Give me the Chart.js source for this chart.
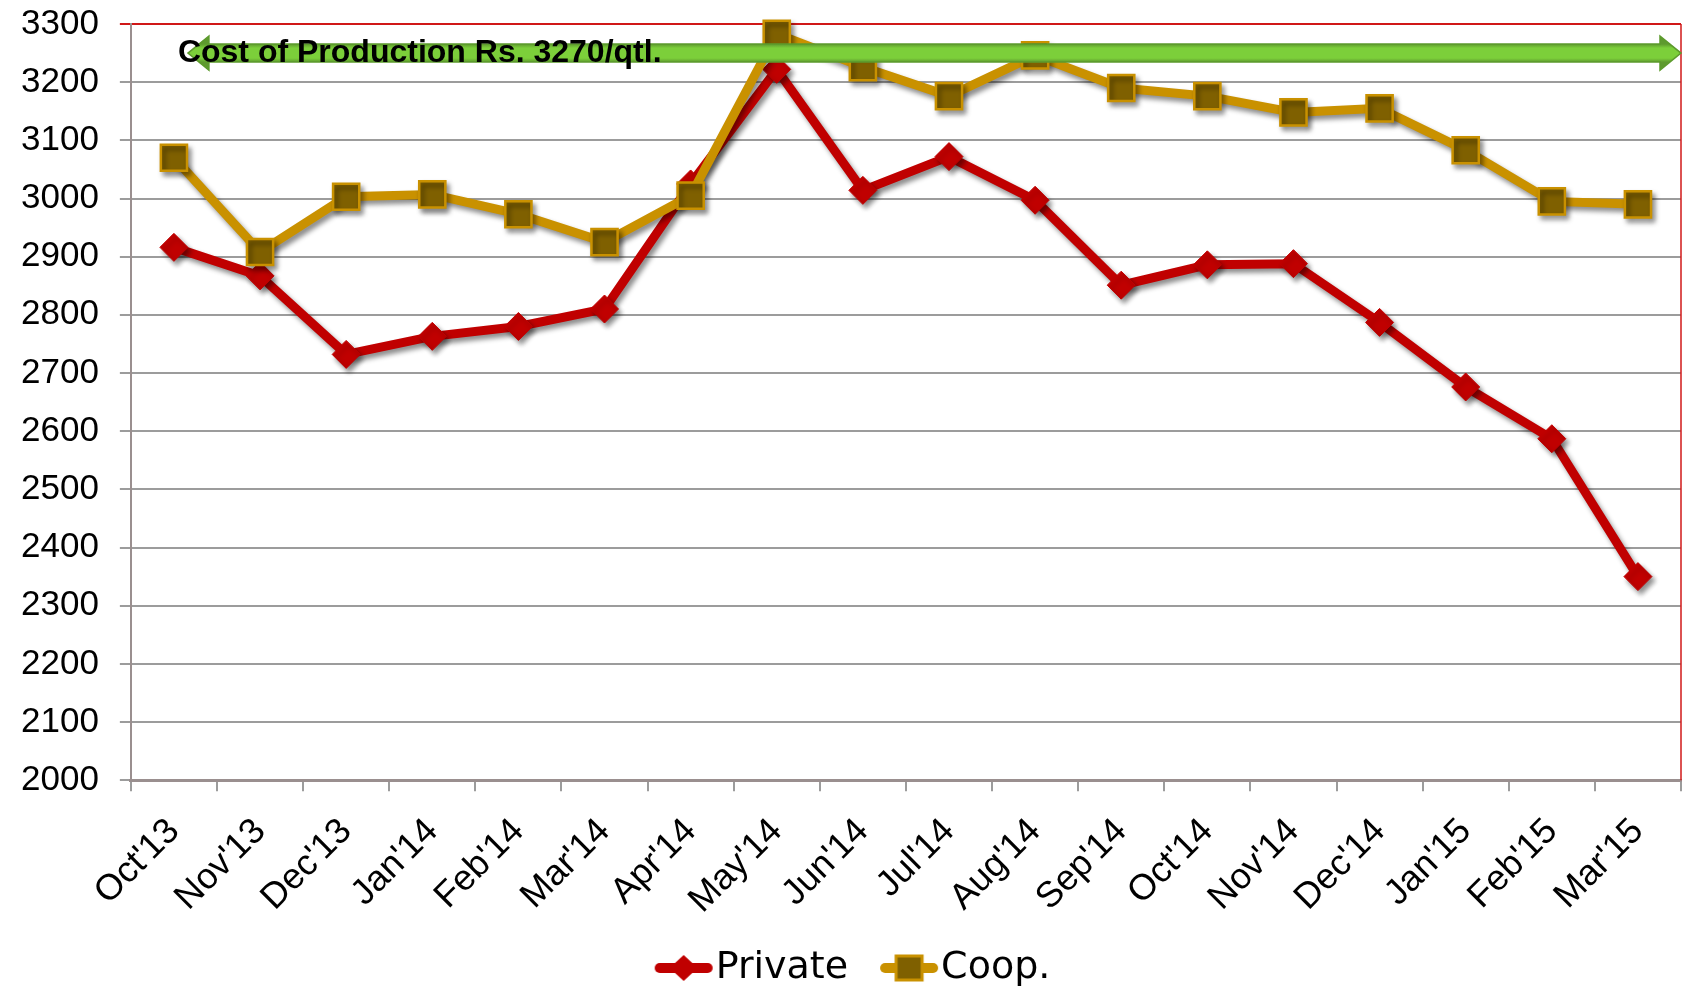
<!DOCTYPE html>
<html>
<head>
<meta charset="utf-8">
<script src="https://cdn.jsdelivr.net/npm/chart.js@4"></script>
<style>
  html, body { margin: 0; padding: 0; background: #fff; }
  #wrap { width: 1686px; height: 986px; }
</style>
</head>
<body>
<div id="wrap"><canvas id="priceChart"></canvas></div>
<script>
const months = ["Oct'13", "Nov'13", "Dec'13", "Jan'14", "Feb'14", "Mar'14", "Apr'14", "May'14", "Jun'14",
    "Jul'14", "Aug'14", "Sep'14", "Oct'14", "Nov'14", "Dec'14", "Jan'15", "Feb'15", "Mar'15"];
const privatePrices = [2916, 2867, 2732, 2763, 2780, 2810, 3025, 3222, 3014, 3072, 2997, 2851, 2886, 2888, 2787, 2676, 2587, 2350];
const coopPrices = [3070, 2908, 3003, 3007, 2973, 2925, 3005, 3283, 3226, 3176, 3246, 3190, 3176, 3148, 3155, 3083, 2995, 2990];
const yMin = 2000;
const yMax = 3300;
const yStep = 100;
const costLevel = 3250;
const costLabel = 'Cost of Production Rs. 3270/qtl.';

const RED = '#c00000';
const GOLD = '#c99100';
const OLIVE = '#7f6000';
const FONT = "'Liberation Sans', Arial, sans-serif";

// legend icons: line with marker, drawn in the right part of a wider canvas
// so that the space on the left acts as the gap between legend items
function legendIcon(color, drawMarker) {
    const c = document.createElement('canvas');
    c.width = 100;
    c.height = 40;
    const g = c.getContext('2d');
    const m = 41;
    g.strokeStyle = color;
    g.lineWidth = 10;
    g.lineCap = 'round';
    g.beginPath();
    g.moveTo(m + 5, 20);
    g.lineTo(m + 53, 20);
    g.stroke();
    drawMarker(g, m + 29);
    return c;
}
const icons = [
    legendIcon(RED, (g, cx) => {
        g.fillStyle = RED;
        g.beginPath();
        g.moveTo(cx, 7); g.lineTo(cx + 14, 20); g.lineTo(cx, 33); g.lineTo(cx - 14, 20);
        g.closePath();
        g.fill();
    }),
    legendIcon(GOLD, (g, cx) => {
        g.fillStyle = OLIVE;
        g.strokeStyle = GOLD;
        g.lineWidth = 3;
        g.fillRect(cx - 13, 8, 26, 24);
        g.strokeRect(cx - 13, 8, 26, 24);
    })
];

// shadow under the series, arrow + label on top
const costArrow = {
    id: 'costArrow',
    beforeDatasetsDraw(chart) {
        const {ctx, chartArea} = chart;
        // red frame on the right side of the plot
        ctx.save();
        ctx.strokeStyle = '#d01818';
        ctx.lineWidth = 1.5;
        ctx.beginPath();
        ctx.moveTo(chartArea.right, chartArea.top);
        ctx.lineTo(chartArea.right, chartArea.bottom);
        ctx.stroke();
        ctx.restore();

        ctx.save();
        ctx.shadowColor = 'rgba(0,0,0,0.45)';
        ctx.shadowBlur = 5;
        ctx.shadowOffsetX = 3;
        ctx.shadowOffsetY = 4;
    },
    afterDatasetsDraw(chart) {
        const {ctx, chartArea, scales: {x, y}} = chart;
        ctx.restore();

        const yc = y.getPixelForValue(costLevel);
        const x0 = x.getPixelForValue(0) + 14;
        const x1 = chartArea.right;
        const shaft = 9, head = 17, headLen = 21;

        ctx.save();
        ctx.beginPath();
        ctx.moveTo(x0, yc);
        ctx.lineTo(x0 + headLen, yc - head);
        ctx.lineTo(x0 + headLen, yc - shaft);
        ctx.lineTo(x1 - headLen, yc - shaft);
        ctx.lineTo(x1 - headLen, yc - head);
        ctx.lineTo(x1, yc);
        ctx.lineTo(x1 - headLen, yc + head);
        ctx.lineTo(x1 - headLen, yc + shaft);
        ctx.lineTo(x0 + headLen, yc + shaft);
        ctx.lineTo(x0 + headLen, yc + head);
        ctx.closePath();
        const grad = ctx.createLinearGradient(0, yc - shaft, 0, yc + shaft);
        grad.addColorStop(0, '#5e9a2e');
        grad.addColorStop(0.22, '#7ccf3a');
        grad.addColorStop(0.78, '#7ccf3a');
        grad.addColorStop(1, '#5e9a2e');
        ctx.fillStyle = grad;
        ctx.fill();
        ctx.strokeStyle = '#5c9a2c';
        ctx.lineWidth = 1.5;
        ctx.stroke();

        ctx.fillStyle = '#000';
        ctx.font = 'bold 32px ' + FONT;
        ctx.textBaseline = 'middle';
        ctx.textAlign = 'left';
        ctx.fillText(costLabel, x0 - 10, yc);
        ctx.restore();
    }
};

const priceData = {
    labels: months,
    datasets: [{
        label: 'Private',
        data: privatePrices,
        order: 1,
        borderColor: RED,
        backgroundColor: RED,
        borderWidth: 9,
        pointStyle: 'rectRot',
        pointRadius: 14,
        pointHoverRadius: 14,
        pointBackgroundColor: RED,
        pointBorderColor: RED,
        pointBorderWidth: 1,
        tension: 0,
        clip: false
    }, {
        label: 'Coop.',
        data: coopPrices,
        order: 0,
        borderColor: GOLD,
        backgroundColor: OLIVE,
        borderWidth: 9,
        pointStyle: 'rect',
        pointRadius: 18.5,
        pointHoverRadius: 18.5,
        pointBackgroundColor: OLIVE,
        pointBorderColor: GOLD,
        pointBorderWidth: 2.5,
        tension: 0,
        clip: false
    }]
};

const priceChartConfig = {
    type: 'line',
    data: priceData,
    options: {
        responsive: true,
        maintainAspectRatio: false,
        animation: false,
        layout: {
            autoPadding: false,
            padding: { top: 24, right: 5, left: 0, bottom: -11 }
        },
        plugins: {
            legend: {
                position: 'bottom',
                labels: {
                    usePointStyle: true,
                    pointStyleWidth: 66,
                    padding: 8,
                    color: '#000',
                    font: { family: "'DejaVu Sans', sans-serif", size: 38 },
                    sort: (a, b) => a.datasetIndex - b.datasetIndex,
                    generateLabels(chart) {
                        const items = Chart.defaults.plugins.legend.labels.generateLabels(chart);
                        items.forEach(it => { it.pointStyle = icons[it.datasetIndex]; });
                        return items;
                    }
                }
            },
            tooltip: { enabled: false }
        },
        scales: {
            x: {
                offset: true,
                grid: {
                    offset: true,
                    drawOnChartArea: false,
                    color: '#9c9c9c',
                    lineWidth: 2,
                    tickLength: 11
                },
                border: { color: '#9a8f8f', width: 3 },
                ticks: {
                    color: '#000',
                    font: { family: FONT, size: 36 },
                    minRotation: 45,
                    maxRotation: 45,
                    padding: 19,
                    autoSkip: false
                },
                afterFit(scale) {
                    // rotated labels may hang over the plot edges, as in the original
                    scale.paddingLeft = 0;
                    scale.paddingRight = 0;
                }
            },
            y: {
                min: yMin,
                max: yMax,
                grid: {
                    color: ctx => (ctx.tick && ctx.tick.value === yMax) ? '#d01818' : '#9c9c9c',
                    lineWidth: 2,
                    tickLength: 11
                },
                border: { color: '#9a8f8f', width: 2 },
                ticks: {
                    stepSize: yStep,
                    color: '#000',
                    font: { family: FONT, size: 35 },
                    padding: 21,
                    callback: v => String(v)
                },
                afterFit(scale) {
                    // label padding is horizontal only here
                    scale.paddingTop = 0;
                    scale.paddingBottom = 0;
                }
            }
        }
    },
    plugins: [costArrow]
};

window.onload = function () {
    const ctx = document.getElementById('priceChart').getContext('2d');
    new Chart(ctx, priceChartConfig);
};
</script>
</body>
</html>
